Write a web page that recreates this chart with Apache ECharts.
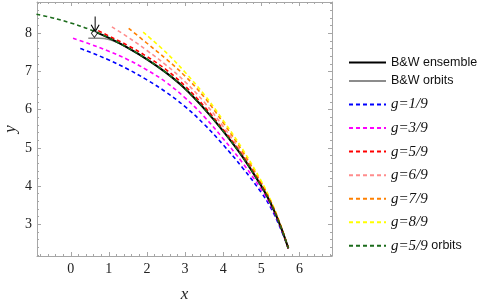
<!DOCTYPE html>
<html><head><meta charset="utf-8">
<script src="https://cdn.jsdelivr.net/npm/echarts@6/dist/echarts.min.js"></script>
<style>html,body{margin:0;padding:0;background:#fff}#c{width:488px;height:304px}</style>
</head><body><div id="c"></div>
<script>
// ---- data ----
const ensembleX = [0.69, 1, 1.5, 2, 2.5, 3, 3.5, 4, 4.5, 5, 5.25, 5.5, 5.71];
const ensembleY = [8.02, 7.88, 7.62, 7.32, 6.97, 6.55, 6.03, 5.44, 4.78, 4.00, 3.54, 2.96, 2.37];
const orbitsX = [0.46, 0.75, 1.0, 1.25, 1.5, 2.0];
const orbitsY = [7.87, 7.87, 7.84, 7.75, 7.62, 7.32];
const g1X = [0.25, 0.5, 1, 1.5, 2, 2.5, 3, 3.5, 4, 4.5, 5, 5.25, 5.5, 5.71];
const g1Y = [7.60, 7.51, 7.30, 7.06, 6.78, 6.46, 6.08, 5.62, 5.08, 4.49, 3.83, 3.43, 2.90, 2.37];
const g3X = [0.06, 0.5, 1, 1.5, 2, 2.5, 3, 3.5, 4, 4.5, 5, 5.25, 5.5, 5.71];
const g3Y = [7.87, 7.72, 7.53, 7.31, 7.04, 6.72, 6.31, 5.82, 5.24, 4.62, 3.91, 3.49, 2.93, 2.37];
const g5X = [0.72, 1, 1.5, 2, 2.5, 3, 3.5, 4, 4.5, 5, 5.25, 5.5, 5.71];
const g5Y = [8.07, 7.93, 7.68, 7.39, 7.05, 6.62, 6.09, 5.48, 4.81, 4.03, 3.56, 2.97, 2.37];
const g6X = [1.08, 1.5, 2, 2.5, 3, 3.5, 4, 4.5, 5, 5.25, 5.5, 5.71];
const g6Y = [8.17, 7.90, 7.55, 7.17, 6.73, 6.20, 5.56, 4.85, 4.05, 3.58, 2.98, 2.37];
const g7X = [1.52, 2, 2.5, 3, 3.5, 4, 4.5, 5, 5.25, 5.5, 5.71];
const g7Y = [8.13, 7.74, 7.33, 6.88, 6.33, 5.66, 4.92, 4.09, 3.60, 2.99, 2.37];
const g8X = [1.9, 2.5, 3, 3.5, 4, 4.5, 5, 5.25, 5.5, 5.71];
const g8Y = [8.03, 7.50, 6.98, 6.40, 5.72, 4.98, 4.13, 3.62, 3.00, 2.37];
const g5orbX = [-0.9, -0.5, 0, 0.5, 1, 1.5, 2, 2.5, 3, 3.5, 4, 4.5, 5, 5.25, 5.5, 5.71];
const g5orbY = [8.50, 8.41, 8.27, 8.10, 7.88, 7.62, 7.32, 6.97, 6.55, 6.03, 5.44, 4.78, 4.00, 3.54, 2.96, 2.37];
const arrowX = [0.64, 0.64];
const arrowY = [8.44, 8.08];
const diamondX = [0.62];
const diamondY = [8.00];
const xRange = [-0.886, 6.855];
const yRange = [2.17, 8.82];
const names = ['B&W ensemble', 'B&W orbits', 'g=1/9', 'g=3/9', 'g=5/9', 'g=6/9', 'g=7/9', 'g=8/9', 'g=5/9 orbits'];

const zip = (xs, ys) => xs.map((x, i) => [x, ys[i]]);
const axisCol = '#a6a6a6';
const serif = '"Liberation Serif","DejaVu Serif",serif';
const sans = '"Liberation Sans",Arial,sans-serif';

function xAx(pos, show) {
  return {
    type: 'value', position: pos, min: xRange[0], max: xRange[1], splitNumber: 7,
    axisLine: {show: true, onZero: false, lineStyle: {color: axisCol, width: 1}},
    axisTick: {show: true, inside: true, length: 4, lineStyle: {color: axisCol}},
    minorTick: {show: true, splitNumber: 5, length: 2, lineStyle: {color: axisCol}},
    splitLine: {show: false},
    axisLabel: {show: show, showMinLabel: false, showMaxLabel: false, margin: 6,
      fontFamily: serif, fontSize: 14, color: '#222'},
    name: show ? 'x' : '', nameLocation: 'middle', nameGap: 30, nameMoveOverlap: false,
    nameTextStyle: {fontFamily: serif, fontStyle: 'italic', fontSize: 17, color: '#222'}
  };
}
function yAx(pos, show) {
  return {
    type: 'value', position: pos, min: yRange[0], max: yRange[1], splitNumber: 6,
    axisLine: {show: true, onZero: false, lineStyle: {color: axisCol, width: 1}},
    axisTick: {show: true, inside: true, length: 4, lineStyle: {color: axisCol}},
    minorTick: {show: true, splitNumber: 5, length: 2, lineStyle: {color: axisCol}},
    splitLine: {show: false},
    axisLabel: {show: show, showMinLabel: false, showMaxLabel: false, margin: 5,
      fontFamily: serif, fontSize: 14, color: '#222'},
    name: show ? 'y' : '', nameLocation: 'middle', nameGap: 18, nameRotate: 90, nameMoveOverlap: false,
    nameTextStyle: {fontFamily: serif, fontStyle: 'italic', fontSize: 17, color: '#222'}
  };
}

function lineS(name, xs, ys, color, width, dashed) {
  return {
    name: name, type: 'line', xAxisIndex: 0, yAxisIndex: 0, data: zip(xs, ys),
    smooth: 0.4, symbol: 'none', symbolSize: 0, animation: false,
    lineStyle: {color: color, width: width, type: dashed ? [4, 3] : 'solid'},
    itemStyle: {color: color}
  };
}

const series = [
  lineS(names[1], orbitsX, orbitsY, '#8c8c8c', 1.5, false),
  lineS(names[2], g1X, g1Y, '#0000ff', 1.6, true),
  lineS(names[3], g3X, g3Y, '#ff00ff', 1.6, true),
  lineS(names[5], g6X, g6Y, '#ff8c8c', 1.6, true),
  lineS(names[6], g7X, g7Y, '#ff8000', 1.6, true),
  lineS(names[7], g8X, g8Y, '#ffff00', 1.6, true),
  lineS(names[0], ensembleX, ensembleY, '#000000', 2, false),
  lineS(names[4], g5X, g5Y, '#ff0000', 1.6, true),
  lineS(names[8], g5orbX, g5orbY, '#1b6b1b', 1.6, true),
  {
    name: 'arrow', type: 'line', data: [
      {value: [arrowX[0], arrowY[0]], symbol: 'none'},
      {value: [arrowX[1], arrowY[1]], symbol: 'path://M0,0L5,7L10,0', symbolSize: [8, 7], symbolOffset: [0, -2]}
    ],
    lineStyle: {color: '#000', width: 1}, itemStyle: {color: 'rgba(0,0,0,0)', borderColor: '#000', borderWidth: 1},
    animation: false, z: 5
  },
  {
    name: 'diamond', type: 'scatter', data: zip(diamondX, diamondY), symbol: 'diamond', symbolSize: [6, 8],
    itemStyle: {color: 'rgba(0,0,0,0)', borderColor: '#000', borderWidth: 1}, animation: false, z: 5
  }
];
const chart = echarts.init(document.getElementById('c'), null, {renderer: 'canvas'});
const legendText = {
  fontFamily: sans, fontSize: 12.5, color: '#111',
  rich: {
    s: {fontFamily: sans, fontSize: 12.5, color: '#111'},
    g: {fontFamily: serif, fontStyle: 'italic', fontSize: 15, color: '#111'}
  }
};
function fmt(n) {
  if (n.indexOf('g=') === 0) {
    const parts = n.split(' ');
    return '{g|' + parts[0] + '}' + (parts[1] ? '{s| ' + parts[1] + '}' : '');
  }
  return '{s|' + n + '}';
}
const legendCommon = {
  orient: 'vertical', left: 348, padding: 0, itemWidth: 37, itemHeight: 14,
  textStyle: legendText, formatter: fmt, itemStyle: {opacity: 0}
};
chart.setOption({
  backgroundColor: '#fff',
  animation: false,
  grid: {left: 37, right: 156, top: 2, bottom: 48, containLabel: false, outerBoundsMode: 'none'},
  xAxis: [xAx('bottom', true), xAx('top', false)],
  yAxis: [yAx('left', true), yAx('right', false)],
  legend: [
    Object.assign({data: names.slice(0, 2), top: 56, itemGap: 5.4}, legendCommon),
    Object.assign({data: names.slice(2), top: 97, itemGap: 8.55}, legendCommon)
  ],
  series: series
});
</script></body></html>
